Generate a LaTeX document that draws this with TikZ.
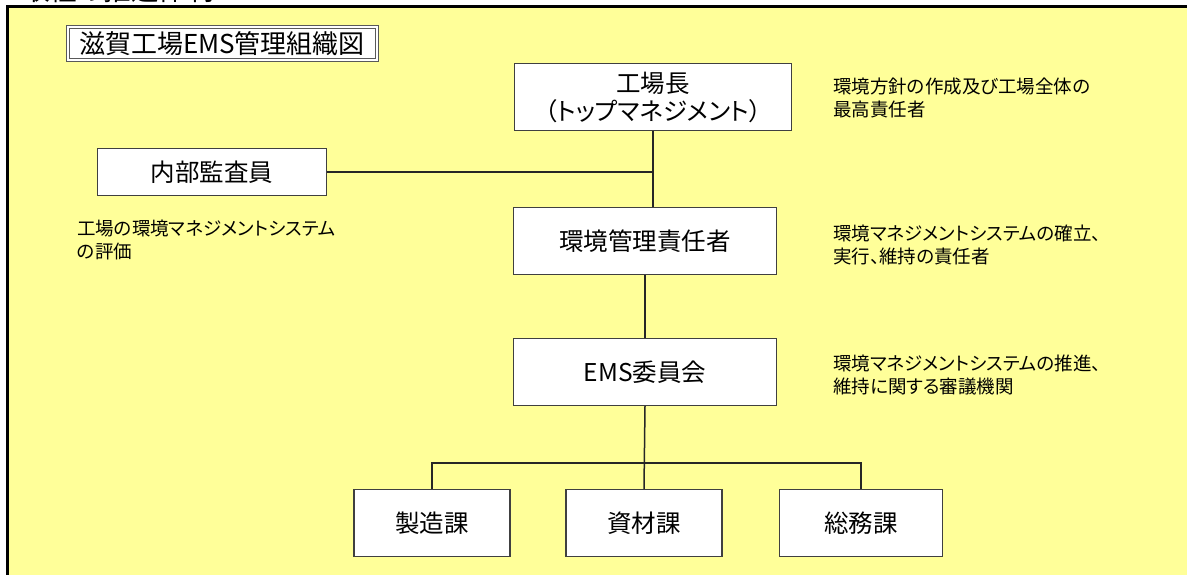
\documentclass[tikz,border=0pt]{standalone}
\usepackage{fontspec}
\newfontfamily\jp[RawFeature=+palt]{Noto Sans CJK JP}
\definecolor{bgyellow}{RGB}{255,255,153}
\begin{document}
\begin{tikzpicture}[x=1pt,y=-1pt,
        box/.style={draw=black!75,line width=1.3pt,fill=white,inner sep=0pt,
            minimum height=67pt,align=center,font=\jp\fontsize{24.5}{28}\selectfont},
        note/.style={anchor=north west,inner sep=0pt,align=left,
            font=\jp\fontsize{18.5}{23}\selectfont},
        link/.style={line width=1.5pt,black!85}]
    \useasboundingbox (0,0) rectangle (1187,575);
    \begin{scope}
        \clip (0,0) rectangle (1187,575);
        \node[anchor=base west,inner sep=0pt,font=\jp\fontsize{27.5}{30}\selectfont] (head) at (22,1) {取組の推進体制};
        \fill[bgyellow] (8,6) rectangle (1190,580);
        \draw[line width=3pt] (7.5,580) -- (7.5,6.5) -- (1190,6.5);
    \end{scope}
    % title
    \node[draw=black!65,double=white,double distance=2pt,line width=1pt,fill=white,
        minimum width=309pt,minimum height=33pt,inner sep=0pt,
        font=\jp\fontsize{26}{28}\selectfont] (title) at (222,43.5) {滋賀工場EMS管理組織図};
    % boxes
    \node[box,minimum width=277pt] (kojo) at (653,97) {工場長\\（トップマネジメント）};
    \node[box,minimum width=229pt,minimum height=47pt] (naibu) at (212,172) {内部監査員};
    \node[box,minimum width=263pt] (sekinin) at (645,241) {環境管理責任者};
    \node[box,minimum width=263pt] (ems) at (645,372) {EMS委員会};
    \node[box,minimum width=156pt] (seizo) at (432,523) {製造課};
    \node[box,minimum width=156pt] (shizai) at (644,523) {資材課};
    \node[box,minimum width=163pt] (somu) at (861,523) {総務課};
    % notes
    \node[note] (notekojo) at (833,78) {環境方針の作成及び工場全体の\\最高責任者};
    \node[note] (notenaibu) at (77,220) {工場の環境マネジメントシステム\\の評価};
    \node[note] (notesekinin) at (833,225) {環境マネジメントシステムの確立、\\実行、維持の責任者};
    \node[note] (noteems) at (833,355) {環境マネジメントシステムの推進、\\維持に関する審議機関};
    % lines
    \coordinate (fork) at (644,463);
    \draw[link] (kojo.south) -- (kojo.south |- sekinin.north);
    \draw[link] (naibu.east) -- (naibu.east -| kojo.south);
    \draw[link] (sekinin.south) -- (ems.north);
    \draw[link] (ems.south) -- (shizai.north);
    \draw[link] (seizo.north) |- (fork) -| (somu.north);
\end{tikzpicture}
\end{document}
